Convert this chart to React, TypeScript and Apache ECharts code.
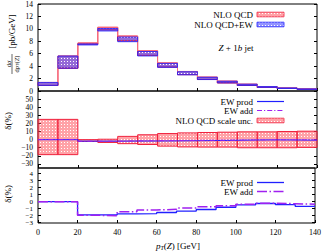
import React, { useEffect, useRef } from 'react';
import * as echarts from 'echarts';

// ---- data ----
const binLow = [0, 10, 20, 30, 40, 50, 60, 70, 80, 90, 100, 110, 120, 130];
const binHigh = [10, 20, 30, 40, 50, 60, 70, 80, 90, 100, 110, 120, 130, 140];
// NLO QCD central dsigma/dpT [pb/GeV]
const qcdCentral = [1.1, 4.5, 7.72, 10.2, 8.5, 6.1, 4.2, 2.9, 2.05, 1.45, 1.0, 0.65, 0.45, 0.3];
// NLO QCD scale uncertainty [%]
const scaleUp = [25, 25, 0, 0.5, 4, 6, 7.5, 8.3, 8.8, 9.2, 9.6, 9.6, 10, 10.4];
const scaleDown = [-18.5, -18.5, -2.2, -3.5, -5, -6, -8, -9, -9.2, -9.2, -10, -10, -10, -9.6];
// EW corrections [%]
const ewProd = [0, 0, -1.9, -1.9, -1.75, -1.7, -1.55, -1.35, -1.12, -0.8, -0.45, -0.27, -0.43, -0.67];
const ewAdd = [0, 0, -1.95, -2.0, -1.43, -1.19, -1.1, -0.9, -0.72, -0.6, -0.38, -0.24, -0.29, -0.38];
// tick labels
const topTicks = [0, 2, 4, 6, 8, 10, 12, 14];
const midTicks = [-30, -20, -10, 0, 10, 20, 30, 40, 50];
const botTicks = [-3, -2, -1, 0, 1, 2, 3, 4];

const SERIF = '"Liberation Serif", "DejaVu Serif", serif';
const RED = '#f0203c';
const BLUE = '#2020ff';
const PURPLE = '#a020f0';

function makePattern(r: number, g: number, b: number, a: number) {
  const c = document.createElement('canvas');
  c.width = 3;
  c.height = 3;
  const ctx = c.getContext('2d')!;
  ctx.fillStyle = `rgba(${r},${g},${b},${a})`;
  ctx.fillRect(0, 0, 3, 3);
  ctx.clearRect(1, 1, 1, 1);
  return { image: c, repeat: 'repeat' } as any;
}

const fmt = (v: number) => String(v).replace('-', '\u2212');

function App() {
  const ref = useRef<HTMLDivElement>(null);
  useEffect(() => {
    const chart = echarts.init(ref.current!, null, { renderer: 'svg' });
    const redPat = makePattern(255, 70, 80, 0.5);
    const bluePat = makePattern(60, 60, 255, 0.55);

    const stepData = (vals: number[]) => [
      ...binLow.map((x, i) => [x, vals[i]]),
      [binHigh[binHigh.length - 1], vals[vals.length - 1]],
    ];
    const qcdLo = qcdCentral.map((v, i) => v * (1 + scaleDown[i] / 100));
    const qcdHi = qcdCentral.map((v, i) => v * (1 + scaleUp[i] / 100));
    const ewLo = qcdLo.map((v, i) => v * (1 + ewProd[i] / 100));
    const ewHi = qcdHi.map((v, i) => v * (1 + ewProd[i] / 100));

    const rectRender = (fill: any, stroke: string, lw: number) => (params: any, api: any) => {
      const a = api.coord([api.value(0), api.value(3)]);
      const b = api.coord([api.value(1), api.value(2)]);
      return {
        type: 'rect',
        shape: { x: a[0], y: a[1], width: b[0] - a[0], height: b[1] - a[1] },
        style: { fill, stroke, lineWidth: lw },
      };
    };

    const grids = [
      { left: 38, right: 7, top: 3.5, height: 87.5 },
      { left: 38, right: 7, top: 91, height: 77 },
      { left: 38, right: 7, top: 168, height: 55 },
    ].map((g) => ({ ...g, show: true, borderColor: '#000', borderWidth: 1, backgroundColor: 'transparent' }));

    const xAxis = [0, 1, 2].map((i) => ({
      type: 'value',
      gridIndex: i,
      position: 'bottom',
      min: 0,
      max: 140,
      interval: 20,
      axisLine: { show: false, onZero: false },
      axisTick: { show: true, inside: true, length: 3, lineStyle: { color: '#000' } },
      splitLine: { show: false },
      axisLabel: {
        show: i === 2,
        margin: 5,
        fontFamily: SERIF,
        fontSize: 8,
        color: '#000',
        formatter: fmt,
      },
    }));

    const yDefs = [
      { min: 0, max: 14, ticks: topTicks, fs: 7.5 },
      { min: -35, max: 60, ticks: midTicks, fs: 7.5 },
      { min: -3.05, max: 4.8, ticks: botTicks, fs: 7 },
    ];
    const yAxis: any[] = [];
    yDefs.forEach((d, i) => {
      ['left', 'right'].forEach((pos) => {
        yAxis.push({
          type: 'value',
          gridIndex: i,
          position: pos,
          min: d.min,
          max: d.max,
          axisLine: { show: false, onZero: false },
          splitLine: { show: false },
          axisTick: { show: true, inside: true, length: 3, customValues: d.ticks, lineStyle: { color: '#000' } },
          axisLabel: {
            show: pos === 'left',
            customValues: d.ticks,
            margin: 5,
            fontFamily: SERIF,
            fontSize: d.fs,
            lineHeight: d.fs,
            color: '#000',
            formatter: fmt,
          },
        });
      });
    });

    const series: any[] = [
      // top panel
      {
        type: 'custom',
        xAxisIndex: 0,
        yAxisIndex: 0,
        z: 2,
        renderItem: rectRender(redPat, RED, 1),
        encode: { x: [0, 1], y: [2, 3] },
        data: binLow.map((lo, i) => [lo, binHigh[i], qcdLo[i], qcdHi[i]]),
      },
      {
        type: 'line',
        xAxisIndex: 0,
        yAxisIndex: 0,
        step: 'end',
        showSymbol: false,
        z: 3,
        lineStyle: { color: RED, width: 1 },
        data: stepData(qcdLo),
      },
      {
        type: 'line',
        xAxisIndex: 0,
        yAxisIndex: 0,
        step: 'end',
        showSymbol: false,
        z: 3,
        lineStyle: { color: '#f87080', width: 1 },
        data: stepData(qcdHi),
      },
      {
        type: 'custom',
        xAxisIndex: 0,
        yAxisIndex: 0,
        z: 4,
        renderItem: rectRender(bluePat, BLUE, 0.8),
        encode: { x: [0, 1], y: [2, 3] },
        data: binLow.map((lo, i) => [lo, binHigh[i], ewLo[i], ewHi[i]]),
      },
      // middle panel
      {
        type: 'custom',
        xAxisIndex: 1,
        yAxisIndex: 2,
        z: 2,
        renderItem: rectRender(redPat, RED, 1),
        encode: { x: [0, 1], y: [2, 3] },
        data: binLow.map((lo, i) => [lo, binHigh[i], scaleDown[i], scaleUp[i]]),
      },
      {
        type: 'line',
        xAxisIndex: 1,
        yAxisIndex: 2,
        step: 'end',
        showSymbol: false,
        z: 5,
        lineStyle: { color: BLUE, width: 1 },
        data: stepData(ewProd),
      },
      {
        type: 'line',
        xAxisIndex: 1,
        yAxisIndex: 2,
        step: 'end',
        showSymbol: false,
        z: 6,
        lineStyle: { color: PURPLE, width: 1, type: [5, 2, 1.2, 2] },
        data: stepData(ewAdd),
      },
      // bottom panel
      {
        type: 'line',
        xAxisIndex: 2,
        yAxisIndex: 4,
        step: 'end',
        showSymbol: false,
        z: 5,
        lineStyle: { color: BLUE, width: 1.3 },
        data: stepData(ewProd),
      },
      {
        type: 'line',
        xAxisIndex: 2,
        yAxisIndex: 4,
        step: 'end',
        showSymbol: false,
        z: 6,
        lineStyle: { color: PURPLE, width: 1.5, type: [10, 2.5, 1.5, 2.5] },
        data: stepData(ewAdd),
      },
    ];

    const txt = (text: string, x: number, y: number, extra: any = {}, rotation = 0) => ({
      type: 'text',
      x,
      y,
      z: 100,
      rotation,
      style: {
        text,
        fontFamily: SERIF,
        fontSize: 9,
        fill: '#000',
        align: 'right',
        verticalAlign: 'middle',
        ...extra,
      },
    });
    const legRect = (y: number, fill: any, stroke: string) => ({
      type: 'rect',
      z: 100,
      shape: { x: 257, y: y - 2.3, width: 27, height: 4.6 },
      style: { fill, stroke, lineWidth: 0.8 },
    });
    const legLine = (y: number, stroke: string, dash?: number[], lw = 1.2) => ({
      type: 'line',
      z: 100,
      shape: { x1: 257, y1: y, x2: 284, y2: y },
      style: { stroke, lineWidth: lw, lineDash: dash },
    });

    const graphic: any[] = [
      // top legend
      txt('NLO QCD', 253, 14.5),
      legRect(14.5, redPat, RED),
      txt('NLO QCD+EW', 253, 24.5),
      legRect(24.5, bluePat, BLUE),
      {
        type: 'text',
        x: 236,
        y: 47.5,
        z: 100,
        style: {
          text: '{i|Z} + 1{i|b} jet',
          fontFamily: SERIF,
          fontSize: 9,
          fill: '#000',
          align: 'center',
          verticalAlign: 'middle',
          rich: { i: { fontStyle: 'italic', fontFamily: SERIF, fontSize: 9 } },
        },
      },
      // middle legend
      txt('EW prod', 253, 101.5),
      legLine(101.5, BLUE),
      txt('EW add', 253, 110.5),
      legLine(110.5, PURPLE, [5, 2, 1.2, 2]),
      txt('NLO QCD scale unc.', 253, 120.5),
      legRect(120.5, redPat, RED),
      // bottom legend
      txt('EW prod', 253, 182.5),
      legLine(182.5, BLUE, undefined, 1.3),
      txt('EW add', 253, 191.5),
      legLine(191.5, PURPLE, [10, 2.5, 1.5, 2.5], 1.5),
      // x axis title
      {
        type: 'text',
        x: 178,
        y: 246,
        z: 100,
        style: {
          text: '{i|p}{s|T}({i|Z}) [GeV]',
          fontFamily: SERIF,
          fontSize: 9,
          fill: '#000',
          align: 'center',
          verticalAlign: 'middle',
          rich: {
            i: { fontStyle: 'italic', fontFamily: SERIF, fontSize: 9 },
            s: { fontStyle: 'italic', fontFamily: SERIF, fontSize: 6, verticalAlign: 'bottom', padding: [4, 0, 0, 0] },
          },
        },
      },
      // delta labels
      txt('\u03b4(%)', 8, 121, { align: 'center' }, Math.PI / 2),
      txt('\u03b4(%)', 8, 194, { align: 'center' }, Math.PI / 2),
      // top y title
      {
        type: 'group',
        x: 12,
        y: 45,
        rotation: Math.PI / 2,
        children: [
          {
            type: 'text',
            x: 13.5,
            y: -0.5,
            style: { text: '[pb/GeV]', fontFamily: SERIF, fontSize: 9, fill: '#000', align: 'center', verticalAlign: 'middle' },
          },
          {
            type: 'text',
            x: -19,
            y: -3.8,
            style: {
              text: 'd{i|\u03c3}',
              fontFamily: SERIF,
              fontSize: 6.5,
              fill: '#000',
              align: 'center',
              verticalAlign: 'middle',
              rich: { i: { fontStyle: 'italic', fontFamily: SERIF, fontSize: 6.5 } },
            },
          },
          {
            type: 'line',
            shape: { x1: -29, y1: 0, x2: -9, y2: 0 },
            style: { stroke: '#000', lineWidth: 0.6 },
          },
          {
            type: 'text',
            x: -19,
            y: 4.2,
            style: {
              text: 'd{i|p}{s|T}({i|Z})',
              fontFamily: SERIF,
              fontSize: 6.5,
              fill: '#000',
              align: 'center',
              verticalAlign: 'middle',
              rich: {
                i: { fontStyle: 'italic', fontFamily: SERIF, fontSize: 6.5 },
                s: { fontStyle: 'italic', fontFamily: SERIF, fontSize: 4.5, verticalAlign: 'bottom', padding: [3, 0, 0, 0] },
              },
            },
          },
        ],
      },
    ];

    chart.setOption({
      animation: false,
      grid: grids,
      xAxis,
      yAxis,
      series,
      graphic,
    });
    return () => chart.dispose();
  }, []);
  return <div ref={ref} style={{ width: 324, height: 252, position: 'absolute', left: 0, top: 0 }} />;
}

export default App;
